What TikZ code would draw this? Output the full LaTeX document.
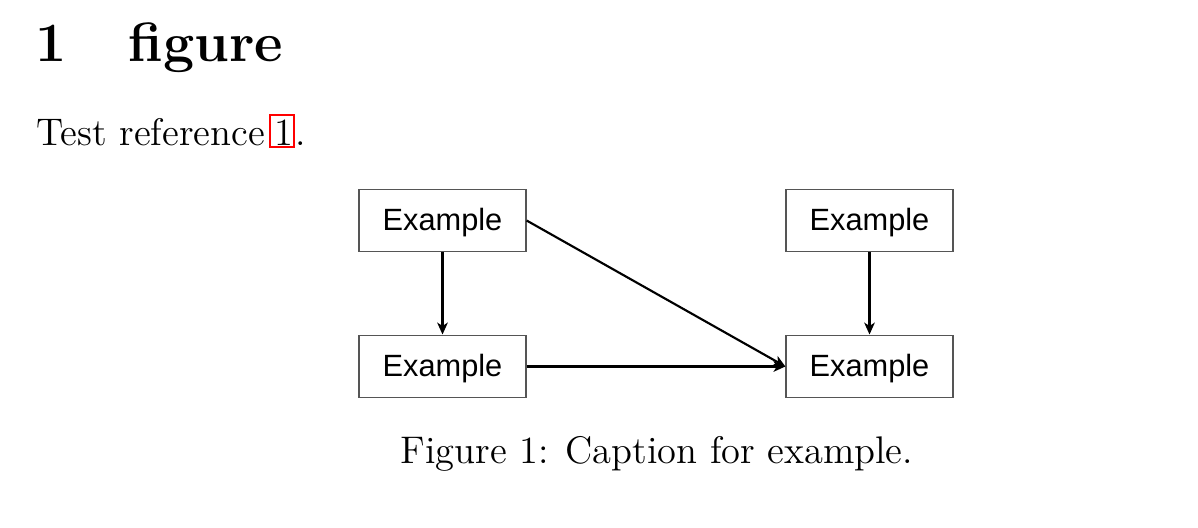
\documentclass[tikz,border=0pt]{standalone}
\usepackage{fontspec}
\usepackage{xcolor}
\usepackage{tikz}
\usetikzlibrary{arrows.meta}
\newfontfamily\diagfont{Liberation Sans}
\definecolor{boxgray}{HTML}{555555}

\begin{document}
\begin{tikzpicture}[x=0.304pt,y=-0.304pt,
  box/.style={draw=boxgray,line width=0.35pt,minimum width=50.8pt,minimum height=19.1pt,inner sep=0pt,text height=6pt,text depth=0pt,font=\diagfont\fontsize{9.35}{11}\selectfont},
  txt/.style={anchor=base west,inner sep=0pt,font=\fontsize{11.7}{14}\selectfont},
  link/.style={-{Stealth[length=3.6pt,width=3.2pt,inset=1pt]},line width=0.65pt}]
\useasboundingbox (0,0) rectangle (1198,527);
% heading and text line
\node[anchor=base west,inner sep=0pt,font=\fontsize{16.85}{21}\bfseries] (secnum) at (35,61.5) {1};
\node[anchor=base west,inner sep=0pt,font=\fontsize{16.85}{21}\bfseries] (sectitle) at (128,61.5) {figure};
\node[txt] (body) at (36,145) {Test reference};
\node[txt] (cite) at (273.5,145) {1};
\node[txt] (stop) at (295,145) {.};
\draw[red,line width=0.4pt] (270,115) rectangle (294,147);
% the diagram
\node[box] (a) at (442.5,220.5) {Example};
\node[box] (b) at (442.5,366.5) {Example};
\node[box] (c) at (869.5,220.5) {Example};
\node[box] (d) at (869.5,366.5) {Example};
\draw[link] (a)--(b);
\draw[link] (a.east)--(d.west);
\draw[link] (b)--(d);
\draw[link] (c)--(d);
% caption
\node[anchor=base,inner sep=0pt,font=\fontsize{11.7}{14}\selectfont] (cap) at (657,463.3) {Figure 1: Caption for example.};
\end{tikzpicture}
\end{document}
